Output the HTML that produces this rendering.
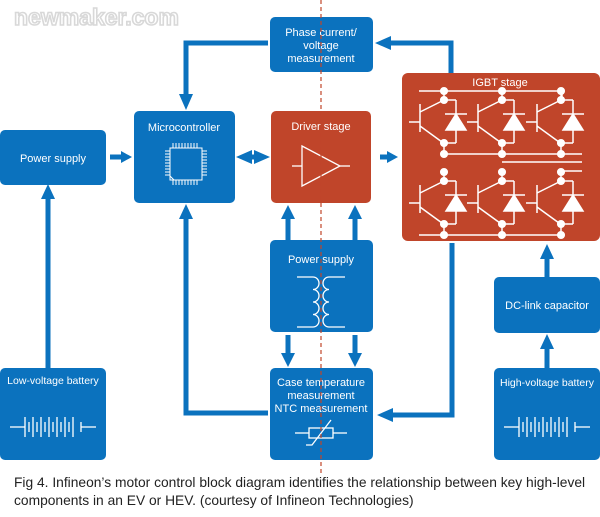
<!DOCTYPE html>
<html><head><meta charset="utf-8"><style>
html,body{margin:0;padding:0;background:#fff;}
svg{display:block}
text{font-family:"Liberation Sans",sans-serif;}
</style></head><body>
<svg width="600" height="517" viewBox="0 0 600 517" xmlns="http://www.w3.org/2000/svg">
<defs>
<g id="bat" stroke="#fff" stroke-width="1.3" fill="none">
<line x1="-43" y1="0" x2="-28" y2="0"/><line x1="28" y1="0" x2="43" y2="0"/>
<line x1="-28" y1="-10" x2="-28" y2="10"/><line x1="-24" y1="-5" x2="-24" y2="5"/>
<line x1="-20" y1="-10" x2="-20" y2="10"/><line x1="-16" y1="-5" x2="-16" y2="5"/>
<line x1="-12" y1="-10" x2="-12" y2="10"/><line x1="-8" y1="-5" x2="-8" y2="5"/>
<line x1="-4" y1="-10" x2="-4" y2="10"/><line x1="0" y1="-5" x2="0" y2="5"/>
<line x1="4" y1="-10" x2="4" y2="10"/><line x1="8" y1="-5" x2="8" y2="5"/>
<line x1="12" y1="-10" x2="12" y2="10"/><line x1="16" y1="-5" x2="16" y2="5"/>
<line x1="20" y1="-10" x2="20" y2="10"/><line x1="28" y1="-5" x2="28" y2="5"/>
</g>
<g id="cell" stroke="#fff" stroke-width="1.5" fill="none">
<line x1="0" y1="14" x2="0" y2="42"/>
<line x1="-11" y1="32" x2="0" y2="32"/>
<line x1="0" y1="22" x2="24" y2="10"/>
<line x1="0" y1="36" x2="22" y2="52"/>
<line x1="24" y1="10" x2="36" y2="10"/><line x1="36" y1="10" x2="36" y2="24"/>
<line x1="25" y1="24" x2="47" y2="24"/>
<polygon points="36,24 26,40 46,40" fill="#fff"/>
<line x1="36" y1="40" x2="36" y2="53"/><line x1="36" y1="53" x2="24" y2="53"/>
<line x1="24" y1="0" x2="24" y2="10"/><line x1="24" y1="53" x2="24" y2="64"/>
<circle cx="24" cy="1" r="3.3" fill="#fff"/><circle cx="24" cy="10" r="3.3" fill="#fff"/>
<circle cx="24" cy="53" r="3.3" fill="#fff"/><circle cx="24" cy="64" r="3.3" fill="#fff"/>
</g>
</defs>

<text x="14" y="25" font-size="23" font-weight="bold" fill="#fff" stroke="#d8d8d8" stroke-width="1.6">newmaker.com</text>

<g stroke="#0b72be" stroke-width="5" fill="none">
<polyline points="268,43 186,43 186,95"/>
<polyline points="451,73 451,43 390,43"/>
<line x1="110" y1="157" x2="122" y2="157"/>
<line x1="380" y1="157" x2="388" y2="157"/>
<line x1="48" y1="368" x2="48" y2="198"/>
<polyline points="268,413 186,413 186,218"/>
<polyline points="452,243 452,415 392,415"/>
<line x1="288" y1="240" x2="288" y2="218"/>
<line x1="355" y1="240" x2="355" y2="218"/>
<line x1="288" y1="335" x2="288" y2="354"/>
<line x1="355" y1="335" x2="355" y2="354"/>
<line x1="547" y1="277" x2="547" y2="258"/>
<line x1="547" y1="368" x2="547" y2="348"/>
<line x1="244" y1="157" x2="262" y2="157"/>
</g>
<g fill="#0b72be">
<polygon points="179,94 193,94 186,110"/>
<polygon points="391,36 391,50 375,43"/>
<polygon points="121,151 121,163 132,157"/>
<polygon points="387,151 387,163 398,157"/>
<polygon points="41,199 55,199 48,184"/>
<polygon points="179,219 193,219 186,204"/>
<polygon points="393,408 393,422 377,415"/>
<polygon points="281,219 295,219 288,205"/>
<polygon points="348,219 362,219 355,205"/>
<polygon points="281,353 295,353 288,367"/>
<polygon points="348,353 362,353 355,367"/>
<polygon points="540,259 554,259 547,244"/>
<polygon points="540,349 554,349 547,334"/>
<polygon points="236,157 252,150 252,164"/>
<polygon points="270,157 254,150 254,164"/>
</g>

<g fill="#0b72be">
<rect x="270" y="17" width="103" height="55" rx="5"/>
<rect x="134" y="111" width="101" height="92" rx="5"/>
<rect x="0" y="130" width="106" height="55" rx="5"/>
<rect x="270" y="240" width="103" height="92" rx="5"/>
<rect x="270" y="368" width="103" height="92" rx="5"/>
<rect x="0" y="368" width="106" height="92" rx="5"/>
<rect x="494" y="277" width="106" height="56" rx="5"/>
<rect x="494" y="368" width="106" height="92" rx="5"/>
</g>
<g fill="#c0452a">
<rect x="271" y="111" width="100" height="92" rx="5"/>
<rect x="402" y="73" width="198" height="168" rx="6"/>
</g>

<g fill="#fff" font-size="11" text-anchor="middle">
<text x="321" y="36">Phase current/</text>
<text x="321" y="49">voltage</text>
<text x="321" y="62">measurement</text>
<text x="184" y="131">Microcontroller</text>
<text x="321" y="130">Driver stage</text>
<text x="53" y="162">Power supply</text>
<text x="321" y="263">Power supply</text>
<text x="321" y="386">Case temperature</text>
<text x="321" y="399">measurement</text>
<text x="321" y="412">NTC measurement</text>
<text x="53" y="384" font-size="10.5">Low-voltage battery</text>
<text x="547" y="309">DC-link capacitor</text>
<text x="547" y="386" font-size="10.5">High-voltage battery</text>
<text x="500" y="86">IGBT stage</text>
</g>

<g stroke="#fff" stroke-width="1" fill="none">
<rect x="170" y="148" width="32" height="32"/>
<line x1="170" y1="176" x2="174" y2="180"/>
<path d="M173 148v-5M176 148v-5M179 148v-5M182 148v-5M185 148v-5M188 148v-5M191 148v-5M194 148v-5M197 148v-5M173 180v5M176 180v5M179 180v5M182 180v5M185 180v5M188 180v5M191 180v5M194 180v5M197 180v5M170 151h-5M170 154h-5M170 157h-5M170 160h-5M170 163h-5M170 166h-5M170 169h-5M170 172h-5M170 175h-5M202 151h5M202 154h5M202 157h5M202 160h5M202 163h5M202 166h5M202 169h5M202 172h5M202 175h5"/>
</g>
<g stroke="#fff" stroke-width="1.3" fill="none">
<polygon points="302,146 302,186 340,166"/>
<line x1="292" y1="166" x2="302" y2="166"/>
<line x1="340" y1="166" x2="350" y2="166"/>
</g>
<g stroke="#fff" stroke-width="1.3" fill="none">
<path d="M297 277h16a6 6.25 0 0 1 0 12.5a6 6.25 0 0 1 0 12.5a6 6.25 0 0 1 0 12.5a6 6.25 0 0 1 0 12.5h-16"/>
<path d="M345 277h-16a6 6.25 0 0 0 0 12.5a6 6.25 0 0 0 0 12.5a6 6.25 0 0 0 0 12.5a6 6.25 0 0 0 0 12.5h16"/>
</g>
<g stroke="#fff" stroke-width="1.3" fill="none">
<line x1="295" y1="433" x2="309" y2="433"/>
<rect x="309" y="428" width="24" height="10"/>
<line x1="333" y1="433" x2="347" y2="433"/>
<polyline points="306,445 312,445 331,420"/>
</g>
<use href="#bat" x="53" y="427"/>
<use href="#bat" x="547" y="427"/>

<g stroke="#fff" stroke-width="1.5" fill="none">
<line x1="419" y1="91" x2="562" y2="91"/>
<line x1="419" y1="235" x2="562" y2="235"/>
<line x1="444" y1="154" x2="582" y2="154"/>
<line x1="502" y1="162" x2="582" y2="162"/>
<line x1="561" y1="171" x2="582" y2="171"/>
<line x1="562" y1="91" x2="562" y2="100"/>
</g>
<use href="#cell" x="420" y="90"/>
<use href="#cell" x="478" y="90"/>
<use href="#cell" x="537" y="90"/>
<use href="#cell" x="420" y="171"/>
<use href="#cell" x="478" y="171"/>
<use href="#cell" x="537" y="171"/>

<line x1="321" y1="0" x2="321" y2="476" stroke="#c0452a" stroke-width="1.2" stroke-dasharray="4,3"/>

<g fill="#222" font-size="13.8">
<text x="14" y="487">Fig 4. Infineon’s motor control block diagram identifies the relationship between key high-level</text>
<text x="14" y="505">components in an EV or HEV. (courtesy of Infineon Technologies)</text>
</g>
</svg>
</body></html>
